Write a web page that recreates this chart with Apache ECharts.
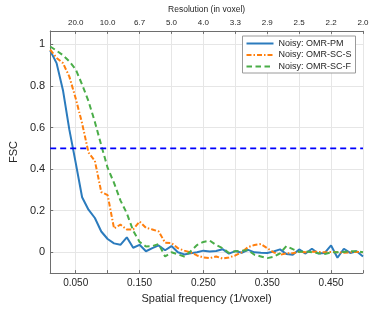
<!DOCTYPE html>
<html><head><meta charset="utf-8">
<script src="https://cdn.jsdelivr.net/npm/echarts@6/dist/echarts.min.js"></script>
<style>html,body{margin:0;padding:0;background:#fff}#c{width:373px;height:309px}</style>
</head><body><div id="c"></div>
<script>
const freq = [0.01,0.02,0.03,0.04,0.05,0.06,0.07,0.08,0.09,0.10,
  0.11,0.12,0.13,0.14,0.15,0.16,0.17,0.18,0.19,0.20,
  0.21,0.22,0.23,0.24,0.25,0.26,0.27,0.28,0.29,0.30,
  0.31,0.32,0.33,0.34,0.35,0.36,0.37,0.38,0.39,0.40,
  0.41,0.42,0.43,0.44,0.45,0.46,0.47,0.48,0.49,0.50];
const fscPM = [0.970,0.910,0.780,0.590,0.430,0.265,0.205,0.165,0.100,0.064,
  0.043,0.036,0.072,0.022,0.036,0.005,0.020,0.033,0.010,0.030,
  0.000,-0.010,-0.005,0.000,0.008,0.004,0.006,0.015,-0.006,0.006,
  -0.002,0.012,0.000,-0.002,-0.003,0.004,0.014,-0.008,-0.012,0.014,
  -0.006,0.017,-0.006,-0.003,0.033,-0.026,0.017,-0.003,0.005,-0.020];
const fscSCS = [0.975,0.935,0.910,0.845,0.740,0.620,0.480,0.440,0.290,0.275,
  0.115,0.133,0.110,0.110,0.148,0.118,0.110,0.100,0.046,0.044,
  0.020,0.008,0.000,-0.015,-0.025,-0.028,-0.020,-0.030,-0.025,-0.015,
  0.000,0.025,0.035,0.040,0.020,0.000,-0.012,-0.005,-0.005,0.002,
  0.000,0.003,0.002,0.000,0.002,0.000,-0.002,0.000,0.002,0.000];
const fscSCF = [0.990,0.970,0.948,0.918,0.880,0.807,0.727,0.627,0.515,0.406,
  0.334,0.250,0.188,0.104,0.050,0.028,0.030,0.040,-0.020,0.000,
  -0.010,-0.020,0.005,0.035,0.050,0.056,0.035,0.020,-0.003,0.005,
  0.008,0.010,-0.012,-0.020,-0.028,-0.022,-0.005,0.030,0.015,0.002,
  0.005,0.000,-0.005,-0.008,0.000,0.000,0.002,0.005,0.005,0.000];
const seriesNames = ['Noisy: OMR-PM','Noisy: OMR-SC-S','Noisy: OMR-SC-F'];
const thresholdX = [0.01, 0.50];
const thresholdY = [0.5, 0.5];
const gridTickValues = [0.05,0.10,0.15,0.20,0.25,0.30,0.35,0.40,0.45,0.50];
const bottomTickValues = [0.05,0.15,0.25,0.35,0.45];
const bottomTickLabels = ['0.050','0.150','0.250','0.350','0.450'];
const topTickLabels = ['20.0','10.0','6.7','5.0','4.0','3.3','2.9','2.5','2.2','2.0'];
const yTickValues = [0,0.2,0.4,0.6,0.8,1];
const yTickLabels = ['0','0.2','0.4','0.6','0.8','1'];

function lookup(vals, labels){
  return function(v){
    for (let i=0;i<vals.length;i++) if (Math.abs(vals[i]-v)<1e-9) return labels[i];
    return '';
  };
}
const pairs = (xs, ys) => xs.map((x,i)=>[x, ys[i]]);
const txt = '#262626', axc = '#6e6e6e', font = 'Liberation Sans, Arial, sans-serif';

const chart = echarts.init(document.getElementById('c'), null, {renderer:'canvas'});
chart.setOption({
  animation:false,
  backgroundColor:'#fff',
  textStyle:{fontFamily:font},
  grid:{left:40, right:10, top:26, bottom:34, containLabel:false},
  legend:{
    data:seriesNames, orient:'vertical', left:242.5, top:36,
    itemWidth:27, itemHeight:10, itemGap:0.5,
    padding:[2,4,1,3],
    itemStyle:{opacity:0},
    backgroundColor:'#fff', borderColor:'#9a9a9a', borderWidth:1,
    textStyle:{fontSize:9, color:txt, fontFamily:font, lineHeight:11}
  },
  xAxis:[{
    type:'value', position:'bottom', min:0.01, max:0.5,
    name:'Spatial frequency (1/voxel)', nameLocation:'middle', nameGap:19,
    nameTextStyle:{fontSize:11, color:txt, fontFamily:font},
    axisLine:{onZero:false, lineStyle:{color:axc, width:1}},
    axisTick:{show:true, inside:true, length:3, customValues:gridTickValues, lineStyle:{color:axc}},
    axisLabel:{customValues:bottomTickValues, formatter:lookup(bottomTickValues,bottomTickLabels), fontSize:10, color:txt, margin:5},
    splitLine:{show:true, lineStyle:{color:'#e6e6e6', width:1}}
  },{
    type:'value', position:'top', min:0.01, max:0.5,
    name:'Resolution (in voxel)', nameLocation:'middle', nameGap:12,
    nameTextStyle:{fontSize:8.5, color:txt, fontFamily:font},
    axisLine:{onZero:false, lineStyle:{color:axc, width:1}},
    axisTick:{show:true, inside:true, length:3, customValues:gridTickValues, lineStyle:{color:axc}},
    axisLabel:{customValues:gridTickValues, formatter:lookup(gridTickValues,topTickLabels), fontSize:8, color:txt, margin:4},
    splitLine:{show:false}
  }],
  yAxis:{
    type:'value', min:-0.1, max:1.065,
    name:'FSC', nameLocation:'middle', nameGap:24,
    nameTextStyle:{fontSize:11, color:txt, fontFamily:font},
    axisLine:{show:true, onZero:false, lineStyle:{color:axc, width:1}},
    axisTick:{show:true, inside:true, length:3, customValues:yTickValues, lineStyle:{color:axc}},
    axisLabel:{customValues:yTickValues, formatter:lookup(yTickValues,yTickLabels), fontSize:11, color:txt, margin:5},
    splitLine:{show:true, lineStyle:{color:'#e6e6e6', width:1}}
  },
  series:[
    {name:seriesNames[0], type:'line', data:pairs(freq,fscPM), symbol:'none', smooth:false,
     itemStyle:{color:'#2b7bbd'}, lineStyle:{color:'#2b7bbd', width:2, type:'solid'}, z:3},
    {name:seriesNames[1], type:'line', data:pairs(freq,fscSCS), symbol:'none', smooth:false,
     itemStyle:{color:'#ff7f0e'}, lineStyle:{color:'#ff7f0e', width:2, type:[5,2,1.5,2]}, z:3},
    {name:seriesNames[2], type:'line', data:pairs(freq,fscSCF), symbol:'none', smooth:false,
     itemStyle:{color:'#4aad48'}, lineStyle:{color:'#4aad48', width:2, type:[5.5,3.5]}, z:3},
    {name:'threshold', type:'line', data:pairs(thresholdX,thresholdY), symbol:'none',
     lineStyle:{color:'#0000ff', width:1.8, type:[6,4]}, z:4, silent:true}
  ]
});
</script></body></html>
